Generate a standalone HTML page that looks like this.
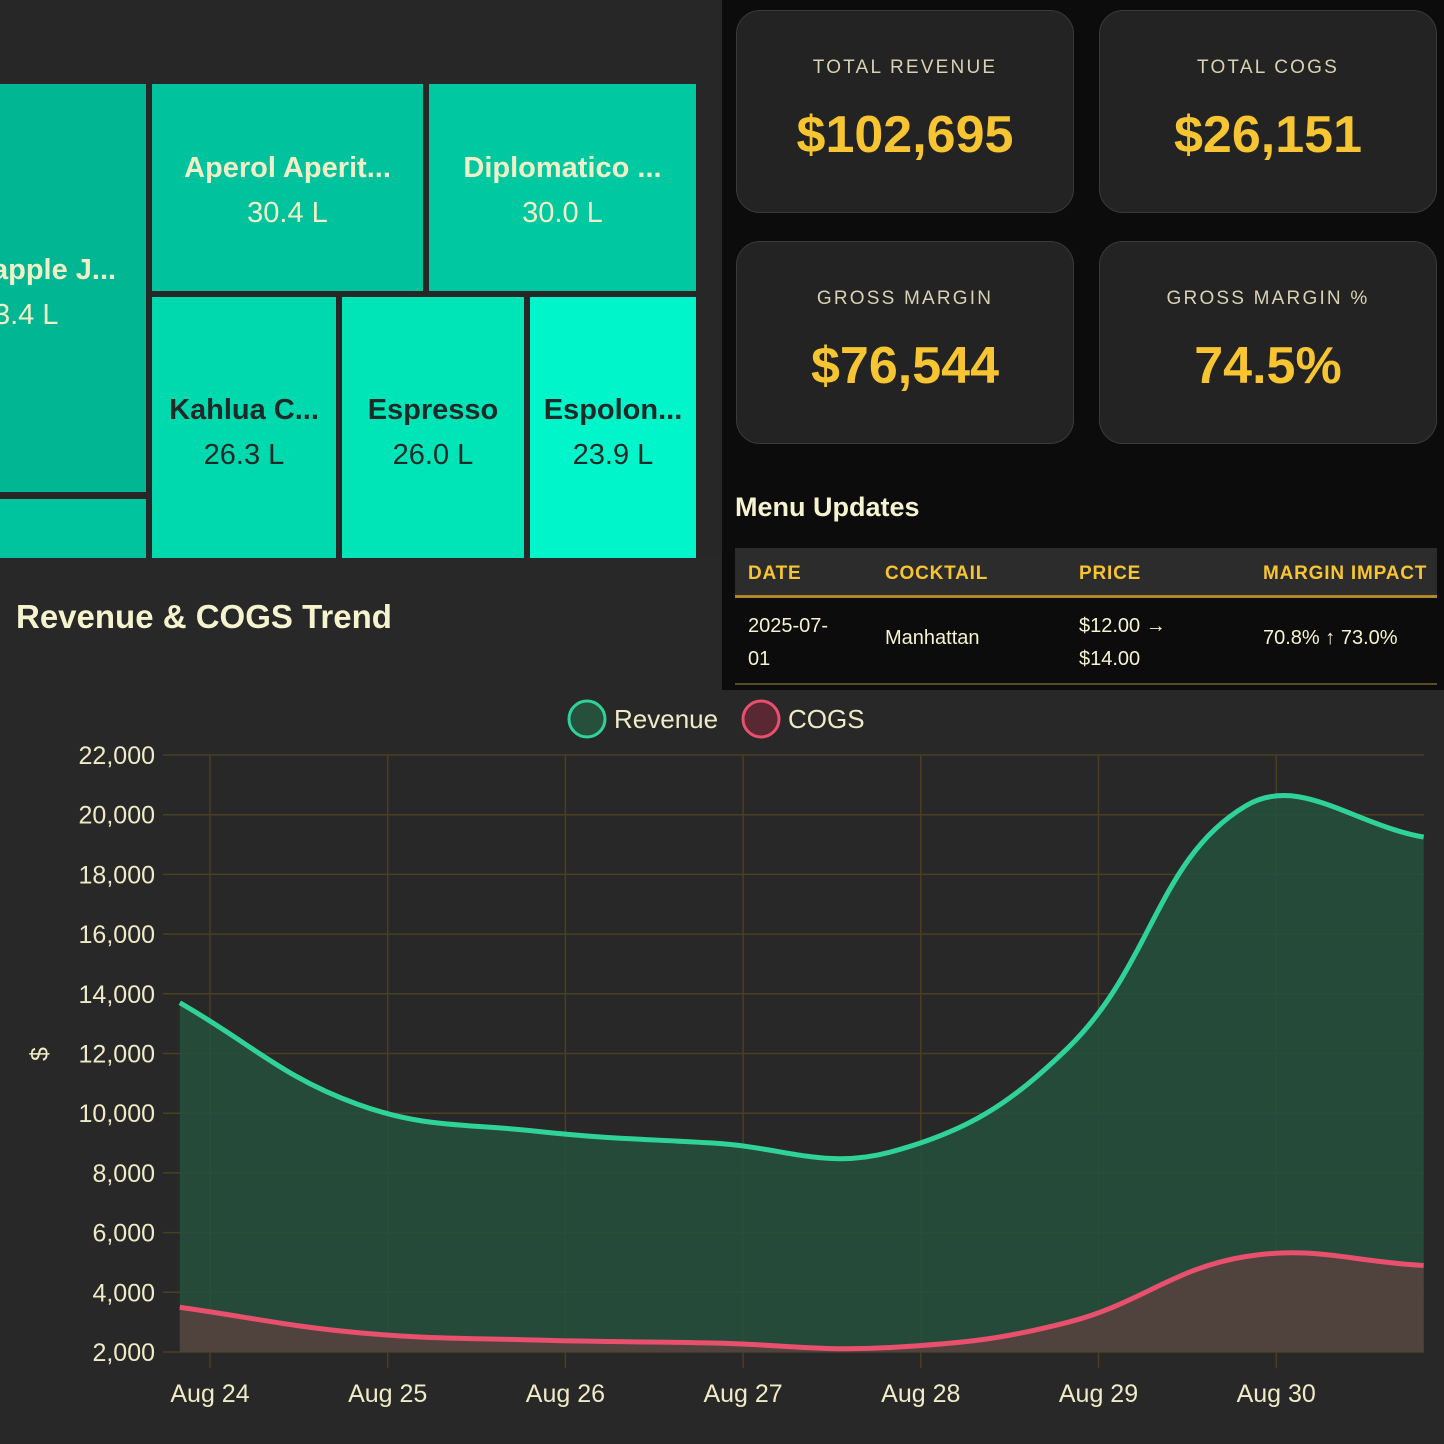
<!DOCTYPE html>
<html><head><meta charset="utf-8"><style>
*{margin:0;padding:0;box-sizing:border-box}
body{width:1444px;height:1444px;background:#282828;font-family:"Liberation Sans",sans-serif;position:relative;overflow:hidden}
.tile{position:absolute;text-align:center;font-weight:bold;font-size:29px;white-space:nowrap;overflow:hidden}
.tile .v{font-weight:normal;font-size:29px;margin-top:12px}
.card{position:absolute;width:338px;height:203px;background:#232323;border:1.5px solid #3a3a3a;border-radius:24px;text-align:center}
.card .l{color:#d8d2b4;font-size:19px;letter-spacing:2.2px;margin-top:46px}
.card .n{color:#f7c531;font-size:52px;font-weight:bold;margin-top:26px}
</style></head><body>
<div style="position:absolute;left:0;top:0;width:722px;height:558px;background:#272727;overflow:hidden">
 <div class="tile" style="left:0;top:84px;width:146px;height:408px;background:#00b693;color:#f1efc8;padding-top:170px;text-align:left"><div style="margin-left:-8px">apple J...</div><div class="v" style="margin-left:-6px">3.4 L</div></div>
 <div class="tile" style="left:0;top:499px;width:146px;height:59px;background:#00c49d"></div>
 <div class="tile" style="left:152px;top:84px;width:271px;height:207px;background:#00c29c;color:#f1efc8;padding-top:68px"><div>Aperol Aperit...</div><div class="v">30.4 L</div></div>
 <div class="tile" style="left:429px;top:84px;width:267px;height:207px;background:#00c9a1;color:#f1efc8;padding-top:68px"><div>Diplomatico ...</div><div class="v">30.0 L</div></div>
 <div class="tile" style="left:152px;top:297px;width:184px;height:261px;background:#00d8ad;color:#1f2a28;padding-top:97px"><div>Kahlua C...</div><div class="v">26.3 L</div></div>
 <div class="tile" style="left:342px;top:297px;width:182px;height:261px;background:#00e5b8;color:#1f2a28;padding-top:97px"><div>Espresso</div><div class="v">26.0 L</div></div>
 <div class="tile" style="left:530px;top:297px;width:166px;height:261px;background:#00f6ca;color:#1f2a28;padding-top:97px"><div>Espolon...</div><div class="v">23.9 L</div></div>
</div>
<div style="position:absolute;left:722px;top:0;width:722px;height:690px;background:#0c0c0c">
 <div class="card" style="left:14px;top:10px"><div class="l">TOTAL REVENUE</div><div class="n">$102,695</div></div>
 <div class="card" style="left:377px;top:10px"><div class="l">TOTAL COGS</div><div class="n">$26,151</div></div>
 <div class="card" style="left:14px;top:241px"><div class="l">GROSS MARGIN</div><div class="n">$76,544</div></div>
 <div class="card" style="left:377px;top:241px"><div class="l">GROSS MARGIN %</div><div class="n">74.5%</div></div>
 <div style="position:absolute;left:13px;top:492px;color:#f6f3cf;font-size:27px;font-weight:bold">Menu Updates</div>
 <div style="position:absolute;left:13px;top:548px;width:702px;height:140px;font-size:20px;color:#f6f3cf;white-space:nowrap">
  <div style="height:50px;background:#2c2c2c;border-bottom:3px solid #b08a2a;color:#f7c531;font-weight:bold;font-size:19px;letter-spacing:0.8px;position:relative">
   <span style="position:absolute;left:13px;top:15px">DATE</span><span style="position:absolute;left:150px;top:15px">COCKTAIL</span><span style="position:absolute;left:344px;top:15px">PRICE</span><span style="position:absolute;left:528px;top:15px">MARGIN IMPACT</span></div>
  <div style="position:relative;height:87px;border-bottom:2px solid #5a4a1e">
   <span style="position:absolute;left:13px;top:12px;line-height:33px">2025-07-<br>01</span><span style="position:absolute;left:150px;top:29px">Manhattan</span><span style="position:absolute;left:344px;top:12px;line-height:33px">$12.00 →<br>$14.00</span><span style="position:absolute;left:528px;top:29px">70.8% ↑ 73.0%</span></div>
 </div>
</div>
<div style="position:absolute;left:16px;top:598px;color:#f6f3cf;font-size:33px;font-weight:bold">Revenue &amp; COGS Trend</div>
<svg id="chart" width="1444" height="760" style="position:absolute;left:0;top:684px" viewBox="0 684 1444 760"></svg>
<script>
const dayLabels=["Aug 24","Aug 25","Aug 26","Aug 27","Aug 28","Aug 29","Aug 30"];
const pointDays=[23.83,24.83,25.83,26.83,27.83,28.83,29.83,30.83];
const revenue=[13700,10300,9400,9000,8700,12200,20300,19250];
const cogs=[3500,2650,2400,2300,2150,3000,5200,4900];
const yTicks=[2000,4000,6000,8000,10000,12000,14000,16000,18000,20000,22000];
const NS="http://www.w3.org/2000/svg",svg=document.getElementById('chart');
const X=d=>210+(d-24)*177.7, Y=v=>1352-(v-2000)*(597/20000);
function mk(t,a,p){const e=document.createElementNS(NS,t);for(const k in a)e.setAttribute(k,a[k]);(p||svg).appendChild(e);return e;}
yTicks.forEach(v=>{const l=mk('line',{x1:163,x2:1424,y1:Y(v),y2:Y(v),stroke:'#4a3f22','stroke-width':1.5});

const t=mk('text',{x:155,y:Y(v)+9,'text-anchor':'end',fill:'#efebc6','font-size':25,'font-family':'Liberation Sans'});t.textContent=v.toLocaleString('en-US');
});
dayLabels.forEach((s,i)=>{const x=X(24+i);const l=mk('line',{x1:x,x2:x,y1:Y(22000),y2:1368,stroke:'#4a3f22','stroke-width':1.5});

const t=mk('text',{x:x,y:1402,'text-anchor':'middle',fill:'#efebc6','font-size':25,'font-family':'Liberation Sans'});t.textContent=s;
});
const yt=mk('text',{x:48,y:1054,'text-anchor':'middle',fill:'#efebc6','font-size':25,transform:'rotate(-90 48 1054)','font-family':'Liberation Sans'});yt.textContent='$';

function spline(xs,ys){const n=xs.length,t=0.4;let p='M'+xs[0]+','+ys[0];
const cp=[];for(let i=0;i<n;i++){const pi=Math.max(0,i-1),ni=Math.min(n-1,i+1);
const d01=Math.hypot(xs[i]-xs[pi],ys[i]-ys[pi]),d12=Math.hypot(xs[ni]-xs[i],ys[ni]-ys[i]);
let fa=d01/(d01+d12||1),fb=d12/(d01+d12||1);fa*=t;fb*=t;
cp.push({px:xs[i]-fa*(xs[ni]-xs[pi]),py:ys[i]-fa*(ys[ni]-ys[pi]),nx:xs[i]+fb*(xs[ni]-xs[pi]),ny:ys[i]+fb*(ys[ni]-ys[pi])});}
for(let i=0;i<n-1;i++)p+=`C${cp[i].nx},${cp[i].ny} ${cp[i+1].px},${cp[i+1].py} ${xs[i+1]},${ys[i+1]}`;return p;}
function series(vals,stroke,fill,name){const xs=pointDays.map(X),ys=vals.map(Y);const p=spline(xs,ys);
const a=mk('path',{d:p+`L${xs[xs.length-1]},${Y(2000)}L${xs[0]},${Y(2000)}Z`,fill:fill});

const l=mk('path',{d:p,fill:'none',stroke:stroke,'stroke-width':5});
}
series(revenue,'#2fd39a','rgba(38,80,60,0.85)','revenue');
series(cogs,'#e8506e','rgba(85,65,62,0.9)','cogs');
[[587,'#2fd39a','rgba(38,80,60,1)','Revenue','legend-revenue'],[761,'#e8506e','rgba(90,40,50,1)','COGS','legend-cogs']].forEach(([cx,s,f,t,n])=>{
const g=mk('g',{});
mk('circle',{cx:cx,cy:719,r:18,fill:f,stroke:s,'stroke-width':3},g);
const tx=mk('text',{x:cx+27,y:728,fill:'#efebc6','font-size':26,'font-family':'Liberation Sans'},g);tx.textContent=t;});
</script>
</body></html>
